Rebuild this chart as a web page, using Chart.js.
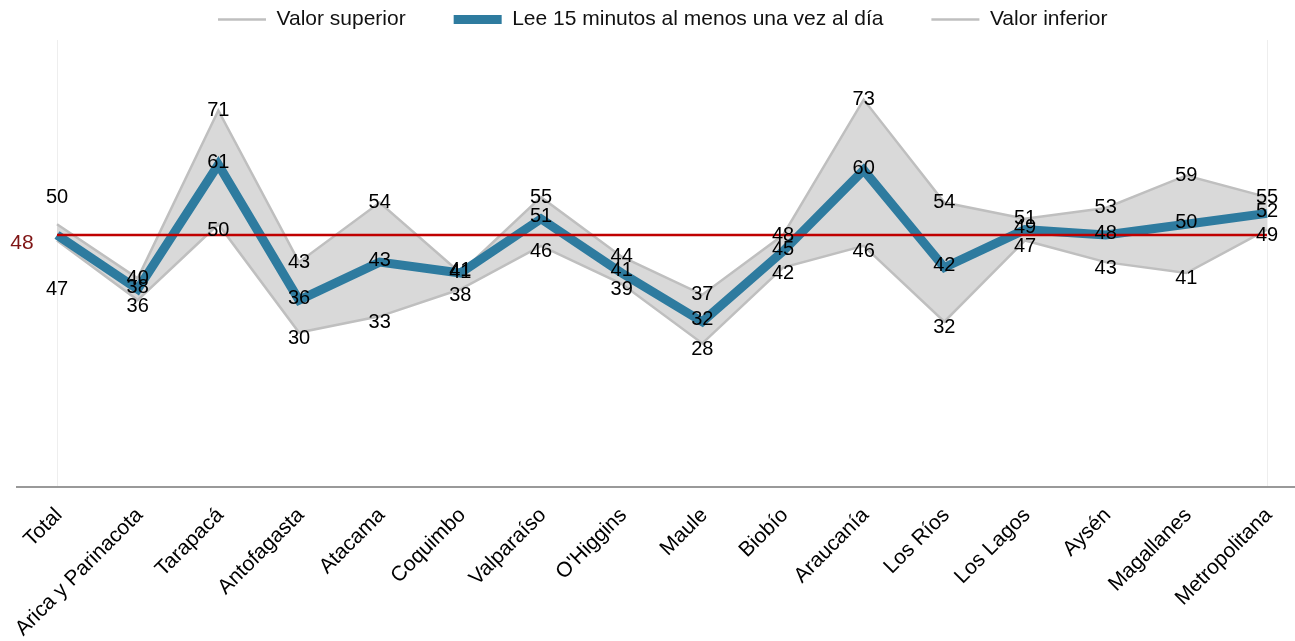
<!DOCTYPE html>
<html lang="es">
<head>
<meta charset="utf-8">
<title>Lee 15 minutos al menos una vez al día</title>
<script src="https://cdn.jsdelivr.net/npm/chart.js@4.4.1/dist/chart.umd.min.js"></script>
<style>
  html, body { margin: 0; padding: 0; background: #fff; }
  #wrap { width: 1295px; height: 641px; }
</style>
</head>
<body>
<div id="wrap"><canvas id="graph"></canvas></div>
<script>
// regiones (eje x)
const regiones = ['Total', 'Arica y Parinacota', 'Tarapacá', 'Antofagasta', 'Atacama', 'Coquimbo',
  'Valparaíso', "O'Higgins", 'Maule', 'Biobío', 'Araucanía', 'Los Ríos', 'Los Lagos', 'Aysén',
  'Magallanes', 'Metropolitana'];

// series
const valorSuperior = [50, 40, 71, 43, 54, 41, 55, 44, 37, 48, 73, 54, 51, 53, 59, 55];
const lectura       = [48, 38, 61, 36, 43, 41, 51, 41, 32, 45, 60, 42, 49, 48, 50, 52];
const valorInferior = [47, 36, 50, 30, 33, 38, 46, 39, 28, 42, 46, 32, 47, 43, 41, 49];

// linea de referencia (Total)
const valorReferencia = 48;

// rango del eje y (oculto)
const yMin = 1.5;
const yMax = 84;

const FUENTE = '"Liberation Sans", Arial, sans-serif';

// linea roja, eje x y etiquetas de valores
const etiquetasPlugin = {
  id: 'etiquetas',
  afterDatasetsDraw(chart) {
    const ctx = chart.ctx;
    const area = chart.chartArea;
    const yRef = chart.scales.y.getPixelForValue(valorReferencia);
    ctx.save();

    // eje x gris a todo el ancho
    ctx.strokeStyle = '#999999';
    ctx.lineWidth = 2;
    ctx.beginPath();
    ctx.moveTo(16, area.bottom);
    ctx.lineTo(chart.width, area.bottom);
    ctx.stroke();

    // linea de referencia
    ctx.strokeStyle = '#c00000';
    ctx.lineWidth = 2.5;
    ctx.beginPath();
    ctx.moveTo(area.left, yRef);
    ctx.lineTo(area.right, yRef);
    ctx.stroke();

    ctx.textAlign = 'center';
    ctx.textBaseline = 'middle';
    ctx.font = '21px ' + FUENTE;
    ctx.fillStyle = '#7f1414';
    ctx.fillText(String(valorReferencia), 22, yRef + 8);

    // valores
    ctx.font = '20px ' + FUENTE;
    ctx.fillStyle = '#000';
    chart.data.datasets.forEach((ds, i) => {
      const meta = chart.getDatasetMeta(i);
      meta.data.forEach((pt, j) => {
        let dy = ds.etiquetaDy;
        if (j === 0) {
          if (ds.etiquetaTotal === null) return;
          dy = ds.etiquetaTotal;
        }
        ctx.fillText(String(ds.data[j]), pt.x, pt.y + dy);
      });
    });
    ctx.restore();
  }
};

// mover la leyenda a su lugar
const leyendaPlugin = {
  id: 'leyendaPos',
  afterLayout(chart) {
    chart.legend.left = 170;
  }
};

const ctx = document.getElementById('graph');
new Chart(ctx, {
  type: 'line',
  data: {
    labels: regiones,
    datasets: [
      {
        label: 'Valor superior',
        data: valorSuperior,
        borderColor: '#bfbfbf',
        backgroundColor: '#d9d9d9',
        borderWidth: 2.5,
        fill: '+2',
        order: 1,
        etiquetaDy: 0,
        etiquetaTotal: -27
      },
      {
        label: 'Lee 15 minutos al menos una vez al día',
        data: lectura,
        borderColor: '#2e7b9f',
        backgroundColor: '#2e7b9f',
        borderWidth: 9,
        fill: false,
        order: 0,
        etiquetaDy: -2,
        etiquetaTotal: null
      },
      {
        label: 'Valor inferior',
        data: valorInferior,
        borderColor: '#bfbfbf',
        backgroundColor: '#d9d9d9',
        borderWidth: 2.5,
        fill: false,
        order: 1,
        etiquetaDy: 6,
        etiquetaTotal: 49
      }
    ]
  },
  options: {
    responsive: true,
    maintainAspectRatio: false,
    animation: false,
    layout: { padding: { top: -39, left: 57, right: 28, bottom: 0 } },
    elements: {
      point: { radius: 0, hoverRadius: 0 },
      line: { tension: 0, borderJoinStyle: 'miter' }
    },
    scales: {
      x: {
        offset: false,
        border: { display: false },
        grid: {
          drawTicks: false,
          color: (c) => (c.index === 0 || c.index === regiones.length - 1) ? '#eeeeee' : 'rgba(0,0,0,0)'
        },
        ticks: {
          autoSkip: false,
          minRotation: 45,
          maxRotation: 45,
          padding: 16,
          labelOffset: 2,
          color: '#000',
          font: { family: FUENTE, size: 21 }
        },
        afterFit(scale) {
          scale.height = 154;
          scale.paddingLeft = 0;
          scale.paddingRight = 0;
        }
      },
      y: { display: false, min: yMin, max: yMax }
    },
    plugins: {
      filler: { drawTime: 'beforeDatasetsDraw' },
      tooltip: { enabled: false },
      legend: {
        position: 'top',
        align: 'start',
        labels: {
          usePointStyle: true,
          pointStyle: 'line',
          pointStyleWidth: 48,
          padding: 48,
          color: '#111',
          font: { family: FUENTE, size: 21 },
          sort: (a, b) => a.datasetIndex - b.datasetIndex
        }
      }
    }
  },
  plugins: [etiquetasPlugin, leyendaPlugin]
});
</script>
</body>
</html>
